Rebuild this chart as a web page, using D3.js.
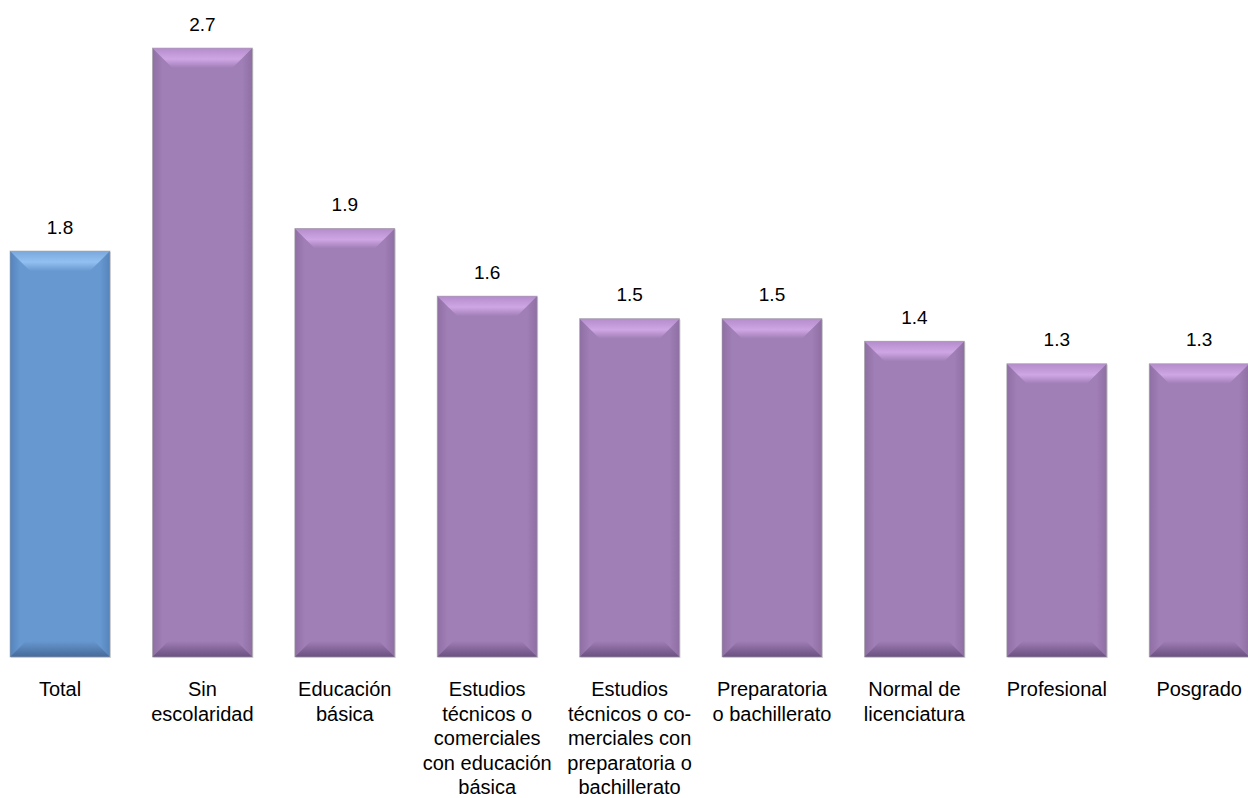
<!DOCTYPE html>
<html><head><meta charset="utf-8">
<script src="https://cdn.jsdelivr.net/npm/d3@7"></script>
<style>body{margin:0;background:#fff}svg{display:block}text{font-family:"Liberation Sans",Arial,sans-serif;fill:#000}</style>
</head><body><svg id="c" width="1248" height="798"></svg>
<script>
const categories = ["Total","Sin escolaridad","Educación básica","Estudios técnicos o comerciales con educación básica","Estudios técnicos o comerciales con preparatoria o bachillerato","Preparatoria o bachillerato","Normal de licenciatura","Profesional","Posgrado"];
const labelLines = [["Total"],["Sin","escolaridad"],["Educación","básica"],["Estudios","técnicos o","comerciales","con educación","básica"],["Estudios","técnicos o co-","merciales con","preparatoria o","bachillerato"],["Preparatoria","o bachillerato"],["Normal de","licenciatura"],["Profesional"],["Posgrado"]];
const values = [1.8,2.7,1.9,1.6,1.5,1.5,1.4,1.3,1.3];

const svg = d3.select("#c");
const step = 142.4, bw = 100;
const x = d3.scaleBand().domain(categories)
  .range([10 - (step-bw)/2, 10 - (step-bw)/2 + step*categories.length])
  .paddingInner((step-bw)/step).paddingOuter((step-bw)/2/step);
const base = 657;
const y = d3.scaleLinear().domain([0,2.7]).range([base,48]);

const defs = svg.append("defs");
const pal = {
  blue:{main:"#6798cf",edge:"#5584bb",top:"#93c0f2",topEdge:"#7aa8dc",bot:"#46699a"},
  purple:{main:"#a07eb6",edge:"#8e6fa3",top:"#cfa6e4",topEdge:"#b48ccb",bot:"#6a5080"}
};
Object.entries(pal).forEach(([k,p])=>{
  const h = defs.append("linearGradient").attr("id","h_"+k).attr("x1",0).attr("x2",1).attr("y1",0).attr("y2",0);
  h.append("stop").attr("offset",0).attr("stop-color",p.edge);
  h.append("stop").attr("offset",0.1).attr("stop-color",p.main);
  h.append("stop").attr("offset",0.9).attr("stop-color",p.main);
  h.append("stop").attr("offset",1).attr("stop-color",p.edge);
  const t = defs.append("linearGradient").attr("id","t_"+k).attr("x1",0).attr("x2",0).attr("y1",0).attr("y2",1);
  t.append("stop").attr("offset",0).attr("stop-color",p.topEdge);
  t.append("stop").attr("offset",0.55).attr("stop-color",p.top);
  t.append("stop").attr("offset",1).attr("stop-color",p.main);
  const b = defs.append("linearGradient").attr("id","b_"+k).attr("x1",0).attr("x2",0).attr("y1",0).attr("y2",1);
  b.append("stop").attr("offset",0).attr("stop-color",p.main);
  b.append("stop").attr("offset",1).attr("stop-color",p.bot);
});

const bevT = 20, bevB = 16;
const g = svg.selectAll("g.bar").data(categories).join("g").attr("class","bar");
g.each(function(c,i){
  const k = i===0 ? "blue" : "purple";
  const x0 = x(c), x1 = x0 + x.bandwidth(), y0 = y(values[i]), y1 = base;
  const s = d3.select(this);
  s.append("rect").attr("x",x0+1).attr("y",y0+1).attr("width",x.bandwidth()).attr("height",y1-y0).attr("fill","#dcdcdc");
  s.append("rect").attr("x",x0).attr("y",y0).attr("width",x.bandwidth()).attr("height",y1-y0).attr("fill",`url(#h_${k})`);
  s.append("path").attr("d",`M${x0},${y0}L${x1},${y0}L${x1-bevT},${y0+bevT}L${x0+bevT},${y0+bevT}Z`).attr("fill",`url(#t_${k})`);
  s.append("path").attr("d",`M${x0},${y1}L${x1},${y1}L${x1-bevB},${y1-bevB}L${x0+bevB},${y1-bevB}Z`).attr("fill",`url(#b_${k})`);
  s.append("rect").attr("x",x0).attr("y",y0).attr("width",x.bandwidth()).attr("height",y1-y0).attr("fill","none").attr("stroke","#a8a8a8").attr("stroke-width",0.8).attr("opacity",0.7);
  s.append("text").attr("x",x0+x.bandwidth()/2).attr("y",y0-17.5).attr("text-anchor","middle").attr("font-size",19).text(values[i].toFixed(1));
  const t = s.append("text").attr("text-anchor","middle").attr("font-size",20).attr("fill","#222");
  labelLines[i].forEach((ln,j)=>t.append("tspan").attr("x",x0+x.bandwidth()/2).attr("y",696+j*24.5).text(ln));
});
</script></body></html>
